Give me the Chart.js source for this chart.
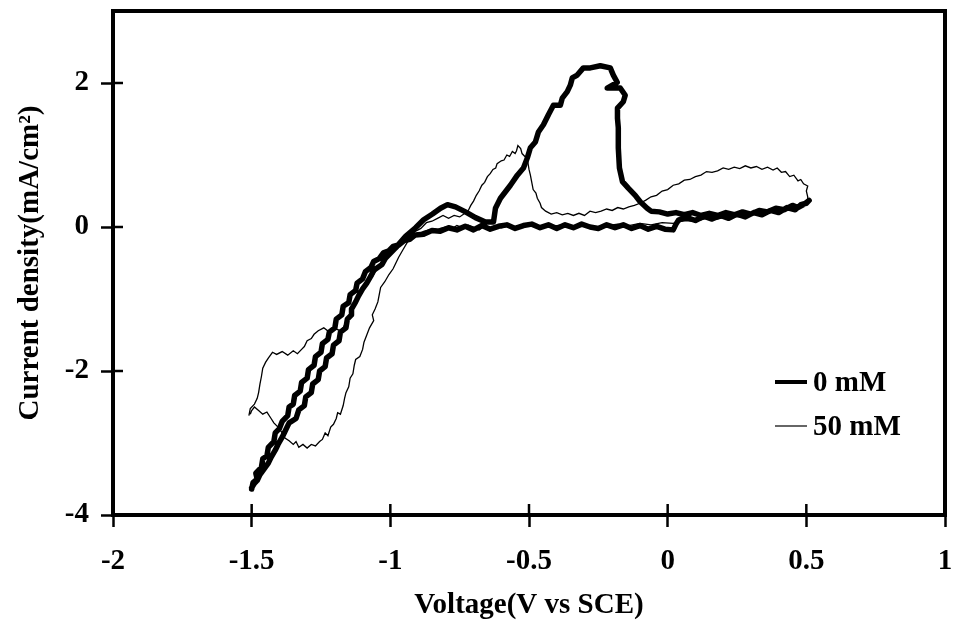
<!DOCTYPE html>
<html>
<head>
<meta charset="utf-8">
<script src="https://cdn.jsdelivr.net/npm/chart.js@4.4.0/dist/chart.umd.min.js"></script>
<style>
html, body { margin: 0; padding: 0; background: #fff; }
</style>
</head>
<body>
<canvas id="cv-chart" width="953" height="632"></canvas>
<script>
// axis ticks
const xTicks = [-2, -1.5, -1, -0.5, 0, 0.5, 1];
const yTicks = [-4, -2, 0, 2];

// 0 mM  [voltage V vs SCE, current density mA/cm2] in scan order
const curve0mM = [
  [-1.50,-3.64],[-1.495,-3.55],[-1.48,-3.50],[-1.485,-3.42],[-1.465,-3.34],[-1.46,-3.22],[-1.445,-3.18],
  [-1.44,-3.06],[-1.42,-2.98],[-1.415,-2.86],[-1.40,-2.80],[-1.39,-2.70],[-1.37,-2.62],[-1.365,-2.50],
  [-1.35,-2.46],[-1.345,-2.34],[-1.325,-2.28],[-1.32,-2.16],[-1.30,-2.10],[-1.295,-1.98],[-1.275,-1.92],
  [-1.27,-1.80],[-1.25,-1.74],[-1.245,-1.62],[-1.225,-1.56],[-1.22,-1.46],[-1.20,-1.40],[-1.195,-1.28],
  [-1.175,-1.22],[-1.17,-1.10],[-1.15,-1.05],[-1.145,-0.94],[-1.125,-0.88],[-1.12,-0.78],[-1.10,-0.72],
  [-1.09,-0.62],[-1.07,-0.56],[-1.06,-0.48],[-1.04,-0.44],[-1.025,-0.36],[-1.005,-0.33],[-0.99,-0.27],
  [-0.97,-0.25],[-0.95,-0.19],[-0.93,-0.17],[-0.91,-0.11],[-0.88,-0.10],[-0.85,-0.05],[-0.82,-0.06],
  [-0.79,-0.01],[-0.76,-0.04],[-0.73,0.01],[-0.70,-0.04],[-0.67,0.02],[-0.64,-0.03],[-0.61,0.01],
  [-0.58,0.03],[-0.55,-0.02],[-0.52,0.02],[-0.49,0.04],[-0.46,-0.01],[-0.43,0.03],[-0.40,-0.02],
  [-0.37,0.03],[-0.34,-0.01],[-0.31,0.04],[-0.28,0.00],[-0.25,-0.02],[-0.22,0.03],[-0.19,-0.01],
  [-0.16,0.03],[-0.13,-0.02],[-0.10,0.02],[-0.07,-0.03],[-0.04,0.01],[-0.01,-0.03],[0.02,-0.04],
  [0.03,0.04],[0.04,0.10],[0.07,0.13],[0.10,0.09],[0.13,0.15],[0.16,0.11],[0.19,0.16],[0.22,0.12],
  [0.25,0.18],[0.28,0.14],[0.31,0.20],[0.34,0.17],[0.37,0.23],[0.40,0.20],[0.43,0.27],[0.46,0.24],
  [0.48,0.31],[0.50,0.33],[0.51,0.37],
  [0.49,0.31],[0.47,0.27],[0.45,0.30],[0.42,0.24],[0.39,0.26],[0.36,0.21],[0.33,0.23],[0.30,0.18],
  [0.27,0.21],[0.24,0.17],[0.21,0.20],[0.18,0.16],[0.15,0.19],[0.12,0.16],[0.09,0.20],[0.06,0.17],
  [0.03,0.20],[0.00,0.18],[-0.03,0.21],[-0.06,0.22],[-0.074,0.26],[-0.099,0.35],[-0.117,0.44],
  [-0.142,0.54],[-0.163,0.63],[-0.174,0.82],[-0.178,1.10],[-0.178,1.38],[-0.181,1.51],[-0.181,1.65],
  [-0.16,1.74],[-0.153,1.83],[-0.171,1.93],[-0.218,1.93],[-0.182,2.01],[-0.196,2.11],[-0.207,2.21],
  [-0.243,2.24],[-0.279,2.21],[-0.304,2.21],[-0.326,2.11],[-0.344,2.07],[-0.351,1.97],[-0.362,1.88],
  [-0.38,1.79],[-0.387,1.69],[-0.412,1.69],[-0.43,1.56],[-0.448,1.42],[-0.466,1.32],[-0.477,1.18],
  [-0.495,1.10],[-0.506,0.96],[-0.52,0.82],[-0.542,0.72],[-0.567,0.58],[-0.603,0.40],[-0.621,0.26],
  [-0.628,0.07],[-0.657,0.07],[-0.693,0.13],[-0.729,0.21],[-0.765,0.28],[-0.794,0.31],[-0.819,0.26],
  [-0.848,0.18],[-0.88,0.10],[-0.909,-0.01],[-0.945,-0.13],[-0.981,-0.29],[-1.017,-0.43],
  [-1.03,-0.52],[-1.06,-0.60],[-1.07,-0.68],[-1.085,-0.78],[-1.10,-0.86],[-1.115,-0.96],[-1.125,-1.04],
  [-1.14,-1.14],[-1.14,-1.22],[-1.155,-1.28],[-1.16,-1.40],[-1.18,-1.46],[-1.185,-1.58],[-1.205,-1.64],
  [-1.21,-1.76],[-1.23,-1.82],[-1.235,-1.94],[-1.255,-2.00],[-1.26,-2.12],[-1.28,-2.18],[-1.285,-2.30],
  [-1.305,-2.36],[-1.31,-2.48],[-1.33,-2.54],[-1.34,-2.66],[-1.365,-2.72],[-1.38,-2.84],[-1.39,-2.92],
  [-1.405,-3.02],[-1.415,-3.10],[-1.43,-3.20],[-1.44,-3.28],[-1.455,-3.36],[-1.47,-3.44],[-1.48,-3.52],
  [-1.49,-3.56],[-1.50,-3.62]
];

// 50 mM
const curve50mM = [
  [-1.505,-2.60],[-1.50,-2.55],[-1.49,-2.50],[-1.475,-2.55],[-1.46,-2.60],[-1.445,-2.57],[-1.43,-2.66],
  [-1.42,-2.72],[-1.405,-2.78],[-1.39,-2.86],[-1.38,-2.93],[-1.365,-2.97],[-1.35,-3.02],[-1.34,-2.98],
  [-1.33,-3.06],[-1.315,-3.02],[-1.30,-3.07],[-1.285,-3.02],[-1.27,-3.04],[-1.255,-2.98],[-1.245,-2.95],
  [-1.235,-2.86],[-1.225,-2.90],[-1.215,-2.78],[-1.205,-2.74],[-1.195,-2.66],[-1.19,-2.58],[-1.18,-2.60],
  [-1.17,-2.48],[-1.165,-2.38],[-1.16,-2.30],[-1.15,-2.22],[-1.145,-2.10],[-1.135,-2.04],[-1.13,-1.92],
  [-1.125,-1.84],[-1.11,-1.80],[-1.10,-1.70],[-1.095,-1.60],[-1.085,-1.50],[-1.075,-1.40],[-1.06,-1.30],
  [-1.065,-1.22],[-1.055,-1.14],[-1.045,-1.04],[-1.04,-0.94],[-1.035,-0.84],[-1.02,-0.76],[-1.005,-0.66],
  [-0.99,-0.58],[-0.98,-0.50],[-0.97,-0.42],[-0.955,-0.32],[-0.94,-0.22],[-0.925,-0.14],[-0.90,-0.10],
  [-0.88,-0.06],[-0.86,-0.04],[-0.84,-0.06],[-0.82,-0.02],[-0.80,0.00],[-0.78,-0.03],[-0.76,0.02],
  [-0.74,-0.01],[-0.72,0.03],[-0.70,0.00],[-0.68,-0.04],[-0.66,0.01],[-0.64,-0.02],[-0.62,0.02],
  [-0.60,-0.01],[-0.57,0.02],[-0.54,0.00],[-0.50,0.02],[-0.46,-0.01],[-0.42,0.01],[-0.38,0.03],
  [-0.34,0.01],[-0.30,0.03],[-0.26,0.00],[-0.22,0.02],[-0.18,0.04],[-0.14,0.02],[-0.10,0.05],
  [-0.06,0.03],[-0.02,0.06],[0.02,0.05],[0.06,0.09],[0.10,0.08],[0.14,0.12],[0.18,0.11],[0.22,0.15],
  [0.26,0.14],[0.30,0.18],[0.34,0.17],[0.38,0.21],[0.42,0.22],[0.46,0.27],[0.49,0.30],[0.505,0.33],
  [0.505,0.42],[0.50,0.50],[0.505,0.57],[0.49,0.60],[0.48,0.66],[0.47,0.64],[0.455,0.72],[0.44,0.70],
  [0.425,0.77],[0.41,0.76],[0.395,0.82],[0.38,0.79],[0.36,0.83],[0.34,0.80],[0.32,0.84],[0.30,0.82],
  [0.28,0.85],[0.26,0.81],[0.24,0.83],[0.22,0.80],[0.20,0.82],[0.18,0.78],[0.16,0.76],[0.14,0.77],
  [0.12,0.72],[0.10,0.70],[0.08,0.66],[0.06,0.65],[0.04,0.60],[0.02,0.58],[0.00,0.52],[-0.02,0.50],
  [-0.04,0.44],[-0.06,0.42],[-0.08,0.37],[-0.10,0.33],[-0.12,0.30],[-0.14,0.28],[-0.16,0.25],
  [-0.18,0.27],[-0.20,0.23],[-0.22,0.25],[-0.24,0.22],[-0.26,0.20],[-0.28,0.22],[-0.30,0.16],
  [-0.32,0.19],[-0.34,0.16],[-0.36,0.19],[-0.38,0.17],[-0.40,0.20],[-0.42,0.18],[-0.44,0.22],
  [-0.455,0.27],[-0.46,0.33],[-0.47,0.40],[-0.475,0.47],[-0.485,0.52],[-0.49,0.62],[-0.495,0.72],
  [-0.50,0.80],[-0.505,0.92],[-0.515,0.98],[-0.525,1.02],[-0.53,1.09],[-0.54,1.13],[-0.545,1.06],
  [-0.55,1.02],[-0.56,1.05],[-0.57,0.98],[-0.58,1.00],[-0.59,0.93],[-0.60,0.92],[-0.615,0.88],
  [-0.62,0.82],[-0.63,0.80],[-0.64,0.74],[-0.65,0.70],[-0.66,0.62],[-0.67,0.58],[-0.68,0.50],
  [-0.69,0.44],[-0.70,0.36],[-0.71,0.30],[-0.72,0.22],[-0.735,0.18],[-0.75,0.14],[-0.77,0.16],
  [-0.79,0.12],[-0.81,0.16],[-0.83,0.12],[-0.85,0.08],[-0.87,0.06],[-0.89,-0.02],[-0.91,-0.06],
  [-0.93,-0.14],[-0.95,-0.20],[-0.97,-0.28],[-0.99,-0.34],[-1.01,-0.42],[-1.03,-0.50],[-1.05,-0.60],
  [-1.07,-0.72],[-1.09,-0.82],[-1.11,-0.96],[-1.13,-1.08],[-1.145,-1.20],[-1.16,-1.32],[-1.17,-1.40],
  [-1.18,-1.44],[-1.20,-1.41],[-1.22,-1.46],[-1.24,-1.40],[-1.26,-1.44],[-1.275,-1.49],[-1.285,-1.55],
  [-1.30,-1.58],[-1.31,-1.66],[-1.32,-1.70],[-1.335,-1.76],[-1.35,-1.72],[-1.37,-1.78],[-1.39,-1.73],
  [-1.41,-1.77],[-1.425,-1.74],[-1.44,-1.82],[-1.45,-1.88],[-1.46,-1.96],[-1.465,-2.08],[-1.47,-2.18],
  [-1.475,-2.30],[-1.48,-2.38],[-1.49,-2.46],[-1.505,-2.52],[-1.51,-2.62]
];

const seriesLabels = ["0 mM", "50 mM"];

const toPoints = (arr) => arr.map(p => ({ x: p[0], y: p[1] }));

Chart.defaults.font.family = '"Liberation Serif", "Times New Roman", serif';
Chart.defaults.font.weight = 'bold';
Chart.defaults.font.size = 29;
Chart.defaults.color = '#000';

// box round the plot + tick marks on the inside
const frame = {
  id: 'frame',
  afterDraw: (chart) => {
    const ctx = chart.ctx;
    const a = chart.chartArea;
    const xs = chart.scales.x, ys = chart.scales.y;
    ctx.save();
    ctx.strokeStyle = '#000';
    ctx.lineWidth = 2.5;
    xTicks.forEach(v => {
      const px = xs.getPixelForValue(v);
      ctx.beginPath(); ctx.moveTo(px, a.bottom); ctx.lineTo(px, a.bottom - 11); ctx.stroke();
    });
    yTicks.forEach(v => {
      const py = ys.getPixelForValue(v);
      ctx.beginPath(); ctx.moveTo(a.left, py); ctx.lineTo(a.left + 10, py); ctx.stroke();
    });
    ctx.lineWidth = 4;
    ctx.strokeRect(a.left, a.top, a.right - a.left, a.bottom - a.top);
    ctx.restore();
  }
};

// legend sitting inside the plot, lower right
const insideLegend = {
  id: 'insideLegend',
  afterDraw: (chart) => {
    const ctx = chart.ctx;
    const rows = [382, 426];
    ctx.save();
    ctx.font = 'bold 29px "Liberation Serif", serif';
    ctx.textBaseline = 'middle';
    ctx.fillStyle = '#000';
    chart.data.datasets.forEach((ds, i) => {
      ctx.strokeStyle = '#000';
      ctx.lineWidth = i === 0 ? 4 : 1.2;
      ctx.beginPath(); ctx.moveTo(775, rows[i]); ctx.lineTo(807, rows[i]); ctx.stroke();
      ctx.fillText(ds.label, 813, rows[i] + 2);
    });
    ctx.restore();
  }
};

const data = {
  datasets: [
    {
      label: seriesLabels[0],
      data: toPoints(curve0mM),
      showLine: true,
      borderColor: '#000',
      borderWidth: 5.5,
      borderJoinStyle: 'round',
      borderCapStyle: 'round',
      pointRadius: 0,
      tension: 0
    },
    {
      label: seriesLabels[1],
      data: toPoints(curve50mM),
      showLine: true,
      borderColor: '#000',
      borderWidth: 1.3,
      pointRadius: 0,
      tension: 0
    }
  ]
};

const config = {
  type: 'scatter',
  data: data,
  plugins: [frame, insideLegend],
  options: {
    responsive: false,
    animation: false,
    layout: { autoPadding: false, padding: { top: 11, right: 8, left: 0, bottom: 0 } },
    plugins: {
      legend: { display: false },
      tooltip: { enabled: false }
    },
    scales: {
      x: {
        type: 'linear',
        min: -2,
        max: 1,
        afterBuildTicks: (scale) => { scale.ticks = xTicks.map(v => ({ value: v })); },
        afterFit: (scale) => {
          scale.height = 117;
          scale.paddingLeft = 0;
          scale.paddingRight = 0;
        },
        ticks: {
          padding: 17,
          maxRotation: 0,
          callback: (v) => String(v)
        },
        grid: { drawOnChartArea: false, tickLength: 12, tickWidth: 2.5, color: '#000' },
        border: { display: false },
        title: {
          display: true,
          text: 'Voltage(V vs SCE)',
          padding: { top: 0, bottom: 9 }
        }
      },
      y: {
        type: 'linear',
        min: -4,
        max: 3,
        afterBuildTicks: (scale) => { scale.ticks = yTicks.map(v => ({ value: v })); },
        afterFit: (scale) => {
          scale.width = 113;
          scale.paddingTop = 0;
          scale.paddingBottom = 0;
        },
        ticks: {
          padding: 12,
          callback: (v) => String(v)
        },
        grid: { drawOnChartArea: false, tickLength: 12, tickWidth: 2.5, color: '#000' },
        border: { display: false },
        title: {
          display: true,
          text: 'Current density(mA/cm²)',
          padding: { top: 13, bottom: 0 }
        }
      }
    }
  }
};

const myChart = new Chart(document.getElementById('cv-chart').getContext('2d'), config);
</script>
</body>
</html>
